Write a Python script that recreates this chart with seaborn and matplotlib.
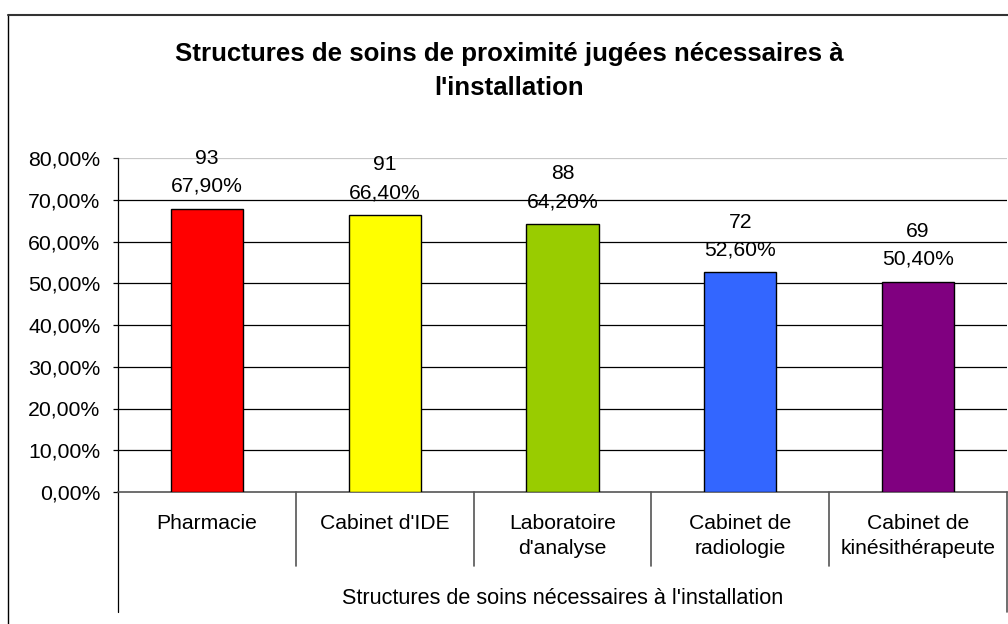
import matplotlib
matplotlib.use("Agg")
import matplotlib.pyplot as plt
from matplotlib.lines import Line2D
from matplotlib.ticker import FuncFormatter, MultipleLocator
import matplotlib.transforms as mtransforms
import seaborn as sns
import pandas as pd

# data
categories = ["Pharmacie", "Cabinet d'IDE", "Laboratoire\nd'analyse",
              "Cabinet de\nradiologie", "Cabinet de\nkinésithérapeute"]
percents = [67.9, 66.4, 64.2, 52.6, 50.4]
counts = [93, 91, 88, 72, 69]
bar_colors = ["#FF0000", "#FFFF00", "#99CC00", "#3366FF", "#800080"]

title = "Structures de soins de proximité jugées nécessaires à\nl'installation"
x_title = "Structures de soins nécessaires à l'installation"

df = pd.DataFrame({"structure": categories, "pct": percents})

sns.set_style("white")
plt.rcParams["font.family"] = ["Liberation Sans", "DejaVu Sans"]
plt.rcParams["text.color"] = "black"
plt.rcParams["xtick.color"] = "black"
plt.rcParams["ytick.color"] = "black"
plt.rcParams["axes.labelcolor"] = "black"

W, H = 1008, 624
fig = plt.figure(figsize=(W / 100, H / 100), dpi=100)

# plot area in pixels
left, right, top, bottom = 118, 1007, 158, 492
ax = fig.add_axes([left / W, (H - bottom) / H, (right - left) / W, (bottom - top) / H])

sns.barplot(data=df, x="structure", y="pct", hue="structure", palette=bar_colors,
            legend=False, width=0.405, edgecolor="black", linewidth=1.0,
            saturation=1, ax=ax, zorder=3)

ax.set_ylim(0, 80)
ax.set_xlim(-0.5, len(categories) - 0.5)
ax.yaxis.set_major_locator(MultipleLocator(10))
ax.yaxis.set_major_formatter(FuncFormatter(lambda v, _: f"{v:.2f}".replace(".", ",") + "%"))

# gridlines like Excel
for v in range(10, 80, 10):
    ax.axhline(v, color="black", lw=0.9, zorder=1)
ax.axhline(80, color="#c8c8c8", lw=0.9, zorder=1)

for s in ["top", "right"]:
    ax.spines[s].set_visible(False)
ax.spines["left"].set_color("black")
ax.spines["left"].set_linewidth(0.9)
ax.spines["bottom"].set_color("#555555")
ax.spines["bottom"].set_linewidth(1.2)

ax.tick_params(axis="y", direction="out", length=3.6, width=0.9, color="black",
               labelsize=15.3, pad=9, left=True)
ax.tick_params(axis="x", length=0, labelsize=15.2, pad=15.5)
for lbl in ax.get_xticklabels():
    lbl.set_linespacing(1.45)
ax.set_xlabel("")
ax.set_ylabel("")

# data labels above each bar: count on top, percentage below
for i, (n, p) in enumerate(zip(counts, percents)):
    pct_txt = f"{p:.2f}".replace(".", ",") + "%"
    ax.annotate(pct_txt, xy=(i, p), xytext=(0, 15.9), textcoords="offset points",
                ha="center", va="center", fontsize=15.2)
    ax.annotate(str(n), xy=(i, p), xytext=(0, 36.0), textcoords="offset points",
                ha="center", va="center", fontsize=15.2)

# multi-level category axis lines
trans = mtransforms.blended_transform_factory(ax.transData, ax.transAxes)
sep_depth = -(566 - bottom) / (bottom - top)
outer_depth = -(612 - bottom) / (bottom - top)
for i in range(1, len(categories)):
    ax.add_line(Line2D([i - 0.5, i - 0.5], [0, sep_depth], transform=trans,
                       color="#555555", lw=1.2, clip_on=False))
ax.add_line(Line2D([-0.5, -0.5], [0, outer_depth], transform=trans,
                   color="black", lw=0.9, clip_on=False))
ax.add_line(Line2D([len(categories) - 0.5] * 2, [0, outer_depth], transform=trans,
                   color="#555555", lw=1.2, clip_on=False))

fig.text((left + right) / 2 / W, 1 - 598 / H, x_title, ha="center", va="center",
         fontsize=15.6)

fig.text(509 / W, 1 - 71 / H, title, ha="center", va="center", fontsize=18.6,
         fontweight="bold", linespacing=1.49)

# outer chart frame
fig.add_artist(Line2D([8 / W, 8 / W], [0, 1 - 15 / H], color="black", lw=1.0))
fig.add_artist(Line2D([8 / W, 1], [1 - 15 / H, 1 - 15 / H], color="#333333", lw=1.5))

fig.savefig("out.png", dpi=100)
